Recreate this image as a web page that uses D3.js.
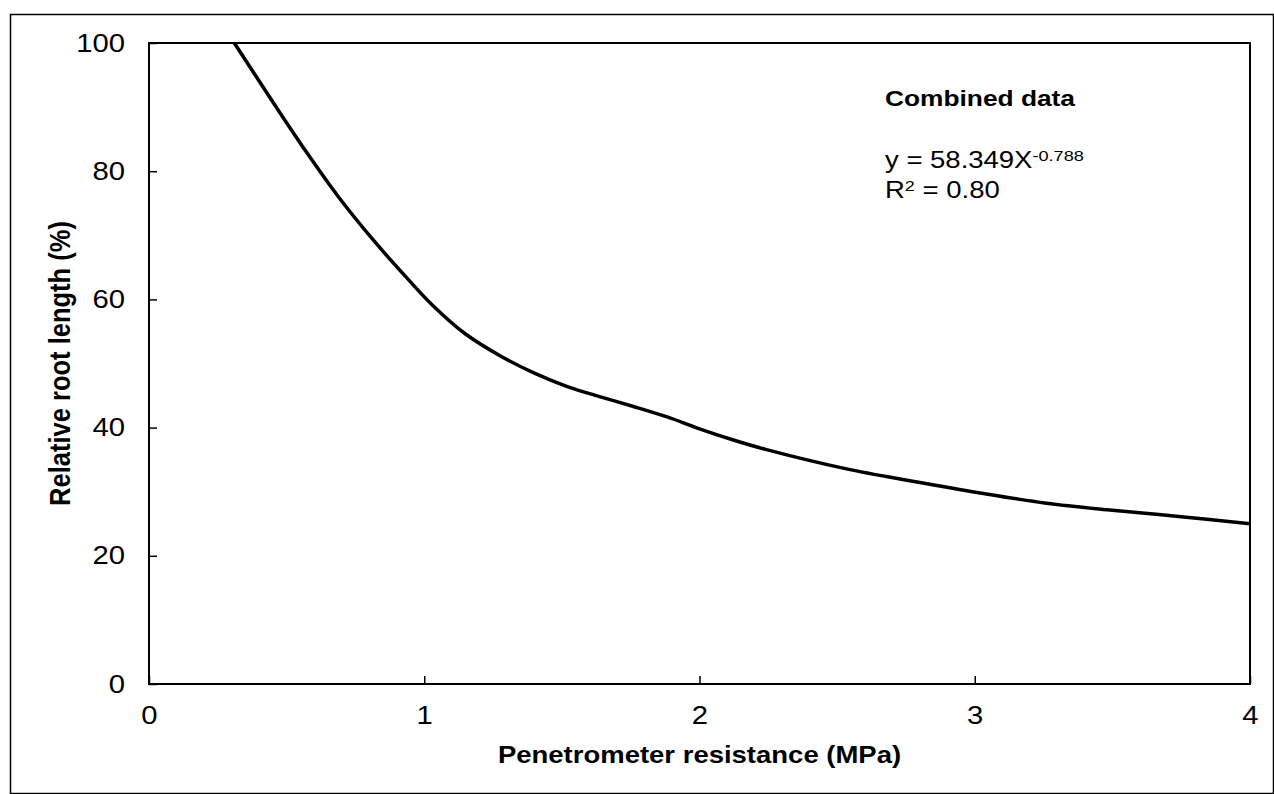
<!DOCTYPE html>
<html>
<head>
<meta charset="utf-8">
<script src="https://cdn.jsdelivr.net/npm/d3@7"></script>
<style>
  body { margin: 0; background: #fff; }
  svg { display: block; font-family: Arial, "Liberation Sans", sans-serif; }
</style>
</head>
<body>
<div id="chart"></div>
<script>
// curve (MPa, %)
const resistance = [0.31, 0.45, 0.57, 0.69, 0.82, 0.94, 1.03, 1.15, 1.28, 1.40, 1.52, 1.64,
                    1.76, 1.88, 2.00, 2.12, 2.24, 2.53, 2.78, 3.02, 3.26, 3.50, 3.75, 4.00];
const rootLength = [100, 90.8, 83.1, 75.9, 69.0, 63.2, 59.1, 54.6, 51.1, 48.5, 46.4, 44.8,
                    43.3, 41.7, 39.8, 38.1, 36.6, 33.6, 31.6, 29.8, 28.2, 27.1, 26.1, 25.0];
const xTicks = [0, 1, 2, 3, 4];
const yTicks = [0, 20, 40, 60, 80, 100];
const fitTitle = "Combined data";
const fitCoef = "58.349";
const fitExp = "-0.788";
const fitR2 = "0.80";

const W = 1274, H = 794;
const margin = { top: 43, right: 24, bottom: 110, left: 149 };
const width = W - margin.left - margin.right,
      height = H - margin.top - margin.bottom;
const font = "Arial, 'Liberation Sans', sans-serif";
const SX = 1.17;   // the original's lettering is a bit wider than plain Arial

const svg = d3.select("#chart").append("svg")
    .attr("width", W)
    .attr("height", H);

// outer frame
svg.append("rect")
    .attr("x", 10.5).attr("y", 14.5)
    .attr("width", W - 11).attr("height", H - 15)
    .attr("fill", "none")
    .attr("stroke", "#000")
    .attr("stroke-width", 1.5);

const g = svg.append("g")
    .attr("transform", `translate(${margin.left},${margin.top})`);

const x = d3.scaleLinear().domain([0, 4]).range([0, width]);
const y = d3.scaleLinear().domain([0, 100]).range([height, 0]);

// ticks point inward
g.append("g")
    .attr("transform", `translate(0,${height})`)
    .call(d3.axisBottom(x).tickValues(xTicks).tickSize(-8).tickPadding(22).tickFormat(d3.format("d")))
    .call(a => a.select(".domain").remove())
    .call(a => a.selectAll("line").attr("stroke-width", 1.5))
    .call(a => a.selectAll("text").attr("font-size", 25).attr("fill", "#000")
        .attr("font-family", font).attr("transform", `scale(${SX},1)`));

g.append("g")
    .call(d3.axisLeft(y).tickValues(yTicks).tickSize(-8).tickPadding(24))
    .call(a => a.select(".domain").remove())
    .call(a => a.selectAll("line").attr("stroke-width", 1.5))
    .call(a => a.selectAll("text").attr("font-size", 25).attr("fill", "#000")
        .attr("font-family", font).attr("x", -24 / SX).attr("transform", `scale(${SX},1)`));

// plot frame
g.append("rect")
    .attr("width", width).attr("height", height)
    .attr("fill", "none")
    .attr("stroke", "#000")
    .attr("stroke-width", 2);

const pts = resistance.map((r, i) => [r, rootLength[i]]);
g.append("path")
    .datum(pts)
    .attr("fill", "none")
    .attr("stroke", "#000")
    .attr("stroke-width", 3.5)
    .attr("d", d3.line().x(d => x(d[0])).y(d => y(d[1])).curve(d3.curveCatmullRom));

// axis titles
g.append("text")
    .attr("transform", `translate(${width / 2},${height + 79}) scale(${SX},1)`)
    .attr("text-anchor", "middle")
    .attr("font-size", 23.5)
    .attr("font-weight", "bold")
    .text("Penetrometer resistance (MPa)");

g.append("text")
    .attr("transform", `translate(-79,${height / 2}) scale(${SX},1) rotate(-90)`)
    .attr("text-anchor", "middle")
    .attr("font-size", 25.5)
    .attr("font-weight", "bold")
    .text("Relative root length (%)");

// fit annotation
const ax = 885 - margin.left;
g.append("text")
    .attr("transform", `translate(${ax},${106 - margin.top}) scale(${SX},1)`)
    .attr("font-size", 22.5)
    .attr("font-weight", "bold")
    .text(fitTitle);

const eq = g.append("text")
    .attr("transform", `translate(${ax},${168 - margin.top}) scale(${SX},1)`)
    .attr("font-size", 23.5);
eq.append("tspan").text(`y = ${fitCoef}X`);
eq.append("tspan").attr("dy", -7).attr("font-size", 15.5).text(fitExp);

const r2 = g.append("text")
    .attr("transform", `translate(${ax},${198 - margin.top}) scale(${SX},1)`)
    .attr("font-size", 23.5);
r2.append("tspan").text("R");
r2.append("tspan").attr("dy", -7).attr("font-size", 15.5).text("2");
r2.append("tspan").attr("dy", 7).text(` = ${fitR2}`);
</script>
</body>
</html>
